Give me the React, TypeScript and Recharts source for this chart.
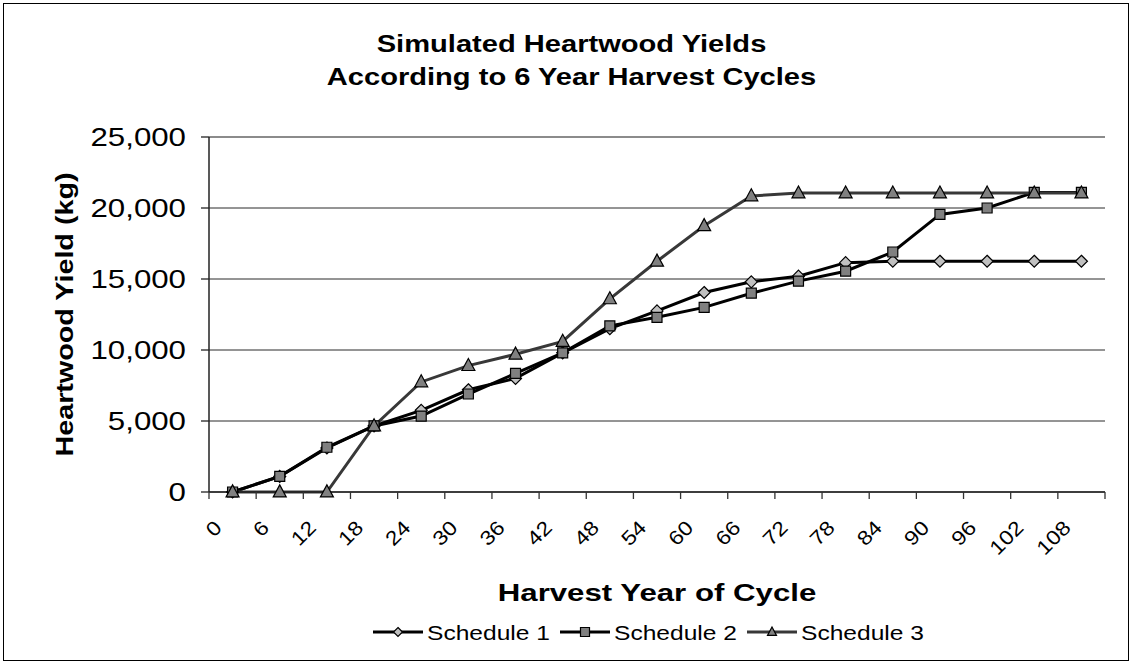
import {
  ComposedChart,
  Line,
  XAxis,
  YAxis,
  CartesianGrid,
  ReferenceLine,
  Legend,
} from "recharts";

// harvest years (category axis)
const years = [0, 6, 12, 18, 24, 30, 36, 42, 48, 54, 60, 66, 72, 78, 84, 90, 96, 102, 108];

// heartwood yield (kg)
const schedule1 = [0, 1100, 3100, 4650, 5750, 7200, 8000, 9800, 11500, 12750, 14050, 14800, 15200, 16150, 16250, 16250, 16250, 16250, 16250];
const schedule2 = [0, 1100, 3150, 4650, 5350, 6900, 8350, 9800, 11700, 12300, 13000, 14000, 14850, 15550, 16900, 19550, 20000, 21100, 21100];
const schedule3 = [0, 0, 0, 4650, 7750, 8900, 9700, 10600, 13600, 16250, 18750, 20850, 21050, 21050, 21050, 21050, 21050, 21050, 21050];

const yTicks = [0, 5000, 10000, 15000, 20000, 25000];
const seriesNames = ["Schedule 1", "Schedule 2", "Schedule 3"];

const data = years.map((year, i) => ({
  year,
  s1: schedule1[i],
  s2: schedule2[i],
  s3: schedule3[i],
}));

const W = 1133;
const H = 664;
const PLOT_LEFT = 209;
const PLOT_RIGHT = 1105;
const PLOT_TOP = 137;
const PLOT_BOTTOM = 492;
const X_AXIS_H = 60;
const HALF = (PLOT_RIGHT - PLOT_LEFT) / (2 * years.length);
const FONT = '"Liberation Sans", Arial, sans-serif';

const diamond = (cx: number, cy: number, r: number) =>
  `M${cx},${cy - r}L${cx + r},${cy}L${cx},${cy + r}L${cx - r},${cy}Z`;
const square = (cx: number, cy: number, r: number) =>
  `M${cx - r},${cy - r}H${cx + r}V${cy + r}H${cx - r}Z`;
const triangle = (cx: number, cy: number, r: number) =>
  `M${cx},${cy - r * 1.1}L${cx + r},${cy + r * 0.75}L${cx - r},${cy + r * 0.75}Z`;

const SERIES = [
  { key: "s1", stroke: "#000000", fill: "#c0c0c0", shape: diamond, size: 6 },
  { key: "s2", stroke: "#000000", fill: "#808080", shape: square, size: 5 },
  { key: "s3", stroke: "#383838", fill: "#808080", shape: triangle, size: 6.5 },
];

const makeDot = (shape: any, fill: string, r: number) => (p: any) => {
  if (p.cx == null || p.cy == null) return <g key={`e${p.index}`} />;
  return (
    <path
      key={`m${p.index}`}
      d={shape(p.cx, p.cy, r)}
      fill={fill}
      stroke="#000"
      strokeWidth={1.2}
    />
  );
};

const XTick = (props: any) => {
  const { x, y, payload } = props;
  const last = payload.value === years[years.length - 1];
  return (
    <g>
      <line x1={x - HALF} y1={y} x2={x - HALF} y2={y + 7} stroke="#333" strokeWidth={1.3} />
      {last && <line x1={x + HALF} y1={y} x2={x + HALF} y2={y + 7} stroke="#333" strokeWidth={1.3} />}
      <text
        transform={`translate(${x - 9.5},${y + 37}) rotate(-45) scale(1.15,1)`}
        textAnchor="end"
        fontFamily={FONT}
        fontSize={20}
        fill="#000"
      >
        {payload.value}
      </text>
    </g>
  );
};

const YTick = (props: any) => {
  const { x, y, payload } = props;
  return (
    <text
      transform={`translate(${x},${y + 9}) scale(1.25,1)`}
      textAnchor="end"
      fontFamily={FONT}
      fontSize={25}
      fill="#000"
    >
      {Number(payload.value).toLocaleString("en-US")}
    </text>
  );
};

const YTitle = (props: any) => {
  const vb = props.viewBox || {};
  const cy = vb.y + vb.height / 2;
  return (
    <text
      transform={`translate(${vb.x + 73},${cy}) rotate(-90) scale(1.25,1)`}
      textAnchor="middle"
      fontFamily={FONT}
      fontWeight="bold"
      fontSize={23}
      fill="#000"
    >
      Heartwood Yield (kg)
    </text>
  );
};

const XTitle = (props: any) => {
  const vb = props.viewBox || {};
  const cx = vb.x + vb.width / 2;
  return (
    <text
      transform={`translate(${cx},${vb.y + 109}) scale(1.3,1)`}
      textAnchor="middle"
      fontFamily={FONT}
      fontWeight="bold"
      fontSize={24}
      fill="#000"
    >
      Harvest Year of Cycle
    </text>
  );
};

const LegendContent = () => (
  <svg width={W} height={32} style={{ display: "block" }}>
    {SERIES.map((s, i) => {
      const x0 = 373 + i * 187;
      return (
        <g key={s.key}>
          <line x1={x0} y1={16} x2={x0 + 50} y2={16} stroke={s.stroke} strokeWidth={3} />
          <path d={s.shape(x0 + 25, 16, 4.5)} fill={s.fill} stroke="#000" strokeWidth={1.2} />
          <text
            transform={`translate(${x0 + 54},${24}) scale(1.17,1)`}
            fontFamily={FONT}
            fontSize={21}
            fill="#000"
          >
            {seriesNames[i]}
          </text>
        </g>
      );
    })}
  </svg>
);

export default function App() {
  return (
    <div
      style={{
        position: "absolute",
        left: 0,
        top: 0,
        width: W,
        height: H,
        background: "#fff",
        overflow: "hidden",
      }}
    >
      <div
        style={{
          position: "absolute",
          left: 3,
          top: 3,
          width: 1124,
          height: 656,
          border: "1px solid #000",
        }}
      />
      <div
        style={{
          position: "absolute",
          left: 5,
          top: 28,
          width: W,
          textAlign: "center",
          fontFamily: FONT,
          fontWeight: "bold",
          fontSize: 23,
          lineHeight: "33px",
          transform: "scaleX(1.265)",
          color: "#000",
        }}
      >
        Simulated Heartwood Yields
        <br />
        According to 6 Year Harvest Cycles
      </div>
      <div style={{ position: "absolute", left: 0, top: 0 }}>
        <ComposedChart
          width={W}
          height={H}
          data={data}
          margin={{ top: PLOT_TOP, right: W - PLOT_RIGHT, bottom: H - PLOT_BOTTOM - X_AXIS_H, left: 0 }}
        >
          <CartesianGrid vertical={false} stroke="#2a2a2a" strokeWidth={1} />
          <XAxis
            dataKey="year"
            type="category"
            interval={0}
            height={X_AXIS_H}
            padding={{ left: HALF, right: HALF }}
            tickLine={false}
            tickSize={0}
            tickMargin={0}
            tick={<XTick />}
            axisLine={{ stroke: "#222", strokeWidth: 1.5 }}
            label={{ content: <XTitle /> }}
          />
          <YAxis
            domain={[0, 25000]}
            ticks={yTicks}
            interval={0}
            width={PLOT_LEFT}
            tickSize={8}
            tickMargin={15}
            tickLine={{ stroke: "#222", strokeWidth: 1.3 }}
            axisLine={{ stroke: "#222", strokeWidth: 1.5 }}
            tick={<YTick />}
            label={{ content: <YTitle /> }}
          />
          <YAxis
            yAxisId="frame"
            orientation="right"
            domain={[0, 25000]}
            width={0}
            tick={false}
            tickLine={false}
            axisLine={{ stroke: "#888", strokeWidth: 1.5 }}
          />
          <ReferenceLine y={25000} stroke="#888" strokeWidth={1.5} />
          {SERIES.map((s, i) => (
            <Line
              key={s.key}
              dataKey={s.key}
              name={seriesNames[i]}
              type="linear"
              stroke={s.stroke}
              strokeWidth={3}
              dot={makeDot(s.shape, s.fill, s.size)}
              activeDot={false}
              isAnimationActive={false}
            />
          ))}
          <Legend
            layout="horizontal"
            align="center"
            verticalAlign="middle"
            wrapperStyle={{ top: 616, left: 0, width: W, height: 32 }}
            content={<LegendContent />}
          />
        </ComposedChart>
      </div>
    </div>
  );
}
